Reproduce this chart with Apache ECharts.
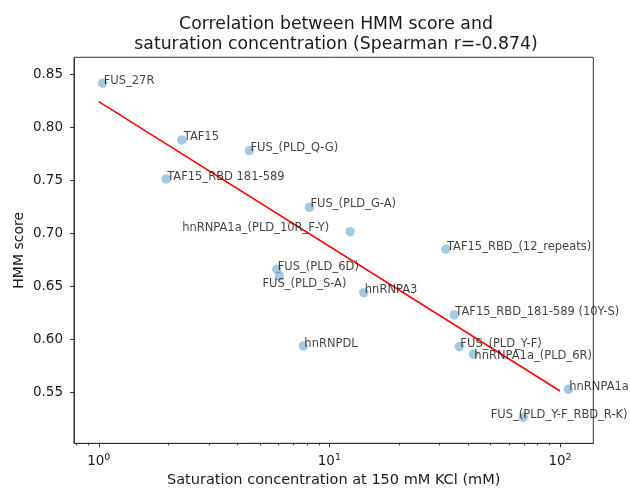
<!DOCTYPE html>
<html>
<head>
<meta charset="utf-8">
<script src="https://cdn.jsdelivr.net/npm/echarts@6/dist/echarts.min.js"></script>
<style>
html,body{margin:0;padding:0;background:#fff;}
#chart{width:630px;height:489px;}
</style>
</head>
<body>
<div id="chart"></div>
<script>
// ---- data ----
const names = [
  'FUS_27R', 'TAF15', 'FUS_(PLD_Q-G)', 'TAF15_RBD 181-589', 'FUS_(PLD_G-A)',
  'hnRNPA1a_(PLD_10R_F-Y)', 'TAF15_RBD_(12_repeats)', 'FUS_(PLD_6D)', 'FUS_(PLD_S-A)',
  'hnRNPA3', 'TAF15_RBD_181-589 (10Y-S)', 'hnRNPDL', 'FUS_(PLD_Y-F)',
  'hnRNPA1a_(PLD_6R)', 'hnRNPA1a', 'FUS_(PLD_Y-F_RBD_R-K)'
];
const saturationConc = [1.04, 2.29, 4.50, 1.96, 8.19, 12.3, 32.0, 5.91, 6.07, 14.1, 34.8, 7.71, 36.6, 42.1, 108.6, 69.3];
const hmmScore = [0.8415, 0.788, 0.778, 0.7512, 0.7244, 0.7014, 0.6848, 0.6659, 0.6596, 0.6438, 0.6228, 0.5935, 0.5929, 0.586, 0.5526, 0.5262];
const fitX = [1, 100];
const fitY = [0.8241, 0.551];
const yTicks = [0.55, 0.60, 0.65, 0.70, 0.75, 0.80, 0.85];
const xMajorTicks = [1, 10, 100];
const xMinorTicks = [0.8, 0.9, 2, 3, 4, 5, 6, 7, 8, 9, 20, 30, 40, 50, 60, 70, 80, 90];

// ---- layout (label offsets in px, relative to the marker centre) ----
const labelOffsets = [
  [1, -2], [2, -2.5], [1, -2.5], [1, -1.5], [1, -3],
  [-168, -3.5], [1, -2.5], [1, -1.8], [-17, 8.2],
  [1, -2.5], [1, -2.8], [1, -2.2], [1, -2.5],
  [1, 2.5], [1, -2.5], [-32.6, -2.5]
];

const FONT = 'DejaVu Sans';
const points = saturationConc.map((x, i) => [x, hmmScore[i]]);

const chart = echarts.init(document.getElementById('chart'), null, { renderer: 'canvas' });
chart.setOption({
  animation: false,
  backgroundColor: '#fff',
  title: {
    text: 'Correlation between HMM score and\nsaturation concentration (Spearman r=-0.874)',
    left: 331,
    textAlign: 'center',
    top: 9,
    textStyle: { fontFamily: FONT, fontSize: 17.3, fontWeight: 'normal', color: '#1a1a1a', lineHeight: 20.5 }
  },
  grid: {
    left: 74, right: 36.7, top: 57.3, bottom: 45.7,
    outerBoundsMode: 'none',
    containLabel: false,
    show: true, borderColor: '#333', borderWidth: 1, backgroundColor: 'transparent'
  },
  xAxis: [{
    type: 'log',
    logBase: 10,
    min: 0.781,
    max: 139.4,
    name: 'Saturation concentration at 150 mM KCl (mM)',
    nameLocation: 'middle',
    nameGap: 28,
    nameTextStyle: { fontFamily: FONT, fontSize: 14.5, color: '#1a1a1a' },
    axisLine: { show: true, onZero: false, lineStyle: { color: '#333', width: 1 } },
    axisTick: { show: true, length: 4, customValues: xMajorTicks, lineStyle: { color: '#333' } },
    axisLabel: {
      customValues: xMajorTicks,
      margin: 9,
      formatter: function (v) { return '{b|10}{s|' + Math.round(Math.log10(v)) + '}'; },
      rich: {
        b: { fontFamily: FONT, fontSize: 13.5, color: '#1a1a1a' },
        s: { fontFamily: FONT, fontSize: 9.5, color: '#1a1a1a', padding: [0, 0, 8, 0] }
      }
    },
    splitLine: { show: false }
  }, {
    type: 'log',
    logBase: 10,
    min: 0.781,
    max: 139.4,
    position: 'bottom',
    axisLine: { show: false },
    axisTick: { show: true, length: 2, customValues: xMinorTicks, lineStyle: { color: '#333' } },
    axisLabel: { show: false },
    splitLine: { show: false }
  }],
  yAxis: {
    type: 'value',
    min: 0.5016,
    max: 0.866,
    name: 'HMM score',
    nameLocation: 'middle',
    nameGap: 48,
    nameMoveOverlap: false,
    nameTextStyle: { fontFamily: FONT, fontSize: 14, color: '#1a1a1a' },
    axisLine: { show: true, lineStyle: { color: '#333', width: 1 } },
    axisTick: { show: true, length: 4, customValues: yTicks, lineStyle: { color: '#333' } },
    axisLabel: {
      customValues: yTicks,
      margin: 11,
      fontFamily: FONT, fontSize: 13.5, color: '#1a1a1a',
      formatter: function (v) { return v.toFixed(2); }
    },
    splitLine: { show: false }
  },
  series: [{
    type: 'scatter',
    data: points,
    symbolSize: 9.5,
    itemStyle: { color: '#1f77b4', opacity: 0.4 },
    z: 2
  }, {
    type: 'line',
    data: fitX.map((x, i) => [x, fitY[i]]),
    showSymbol: false,
    symbol: 'none',
    lineStyle: { color: '#ff0000', width: 1.6 },
    z: 3
  }, {
    type: 'scatter',
    data: points,
    symbol: 'circle',
    symbolSize: 1,
    itemStyle: { color: 'rgba(0,0,0,0)' },
    silent: true,
    z: 4,
    labelLayout: function (p) {
      const o = labelOffsets[p.dataIndex];
      return { dx: o[0], dy: o[1], hideOverlap: false };
    },
    label: {
      show: true,
      position: 'inside',
      align: 'left',
      verticalAlign: 'middle',
      fontFamily: FONT,
      fontSize: 11.5,
      color: '#111',
      formatter: function (p) { return names[p.dataIndex]; }
    }
  }]
});
</script>
</body>
</html>
